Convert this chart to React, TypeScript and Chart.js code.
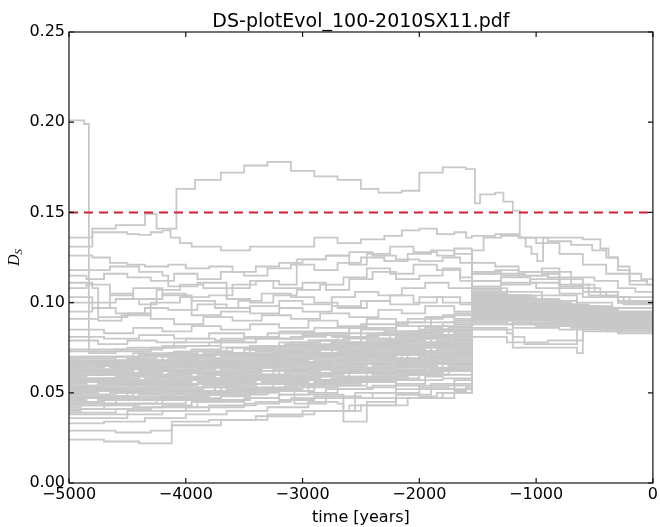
import React, { useEffect, useRef } from 'react';
import { Chart, registerables } from 'chart.js';

Chart.register(...registerables);

const TITLE = 'DS-plotEvol_100-2010SX11.pdf';
const X_LABEL = 'time [years]';
const X_MIN = -5000;
const X_MAX = 0;
const X_STEP = 1000;
const Y_MIN = 0;
const Y_MAX = 0.25;
const Y_STEP = 0.05;
const THRESHOLD = 0.15;

// Shared time grids for the dense band of clones (years)
const GRID_A = [-5000, -4750, -4500, -4250, -4000, -3750, -3500, -3250, -3000, -2750, -2500, -2250, -2000, -1750, -1550, -1300, -1050, -800, -550, -300, 0];
const GRID_B = [-5000, -4850, -4600, -4350, -4100, -3850, -3600, -3350, -3100, -2850, -2600, -2350, -2100, -1850, -1550, -1400, -1150, -900, -650, -400, 0];
const GRID_C = [-5000, -4650, -4400, -4150, -3900, -3650, -3400, -3150, -2900, -2650, -2400, -2150, -1900, -1700, -1550, -1350, -1100, -850, -600, -350, 0];
const GRID_D = [-5000, -4900, -4700, -4450, -4200, -3950, -3700, -3450, -3200, -2950, -2700, -2450, -2200, -1950, -1800, -1550, -1250, -1000, -700, -450, 0];

// Dense band values, in thousandths of D_S
const BAND_A = [
  [45, 46, 46, 47, 49, 49, 51, 52, 54, 55, 57, 58, 60, 62, 90, 90, 88, 88, 86, 85, 85],
  [48, 48, 50, 50, 51, 53, 53, 55, 57, 58, 59, 62, 63, 65, 97, 95, 94, 92, 91, 89, 89],
  [50, 51, 51, 53, 53, 55, 57, 57, 59, 61, 62, 63, 66, 67, 103, 101, 98, 97, 94, 92, 92],
  [52, 52, 54, 55, 55, 57, 58, 60, 60, 62, 64, 66, 67, 70, 94, 93, 93, 91, 90, 88, 88],
  [54, 55, 55, 56, 58, 58, 60, 62, 63, 64, 66, 67, 70, 72, 106, 104, 100, 98, 96, 93, 93],
  [56, 56, 57, 59, 59, 61, 62, 63, 65, 67, 67, 69, 71, 73, 99, 98, 96, 95, 92, 91, 91],
  [58, 58, 60, 60, 62, 62, 64, 66, 66, 68, 70, 71, 73, 76, 101, 100, 97, 96, 94, 92, 92],
  [60, 61, 61, 62, 63, 65, 65, 67, 69, 70, 71, 73, 76, 77, 92, 92, 91, 89, 89, 87, 87],
  [62, 62, 64, 64, 66, 67, 68, 69, 71, 72, 74, 76, 77, 80, 104, 103, 101, 98, 95, 94, 94],
  [64, 65, 65, 67, 67, 69, 70, 72, 72, 74, 76, 77, 80, 82, 96, 95, 94, 93, 91, 90, 90],
  [66, 66, 68, 68, 70, 71, 71, 73, 75, 77, 77, 79, 81, 84, 100, 98, 97, 95, 93, 91, 91],
  [68, 68, 69, 71, 71, 72, 74, 76, 76, 78, 80, 82, 84, 86, 107, 104, 102, 99, 97, 95, 95],
];
const BAND_B = [
  [46, 47, 48, 48, 50, 51, 52, 53, 55, 57, 57, 59, 61, 63, 95, 94, 92, 91, 89, 88, 88],
  [49, 49, 50, 52, 52, 54, 55, 56, 58, 59, 61, 61, 64, 66, 100, 99, 97, 95, 93, 91, 91],
  [51, 52, 52, 54, 55, 55, 57, 59, 59, 61, 63, 64, 65, 68, 91, 91, 90, 89, 88, 86, 86],
  [53, 53, 55, 55, 57, 58, 58, 60, 62, 63, 64, 66, 68, 69, 105, 103, 100, 97, 95, 94, 94],
  [55, 56, 56, 58, 58, 60, 61, 62, 64, 65, 66, 68, 69, 72, 97, 96, 95, 93, 92, 90, 90],
  [57, 57, 59, 59, 61, 61, 63, 65, 65, 67, 69, 69, 72, 74, 102, 101, 99, 97, 94, 93, 93],
  [59, 60, 60, 62, 62, 64, 65, 65, 67, 69, 70, 72, 73, 75, 93, 93, 92, 90, 89, 88, 88],
  [61, 61, 63, 63, 64, 66, 67, 68, 69, 71, 72, 74, 75, 78, 99, 97, 96, 95, 93, 91, 91],
  [63, 63, 64, 66, 66, 67, 69, 70, 72, 72, 74, 76, 78, 79, 104, 102, 99, 98, 96, 94, 94],
  [65, 66, 66, 67, 69, 69, 71, 72, 73, 75, 76, 78, 80, 82, 95, 94, 94, 92, 90, 89, 89],
  [67, 67, 68, 70, 70, 72, 72, 74, 76, 76, 78, 80, 82, 85, 101, 100, 98, 96, 94, 92, 92],
  [69, 69, 70, 71, 73, 73, 75, 76, 78, 79, 81, 83, 84, 87, 98, 96, 95, 94, 92, 90, 90],
];
const BAND_C = [
  [47, 47, 49, 49, 50, 52, 52, 54, 56, 56, 58, 60, 62, 64, 98, 97, 95, 93, 91, 90, 90],
  [49, 50, 51, 51, 53, 54, 55, 57, 57, 59, 60, 62, 64, 66, 92, 91, 91, 90, 88, 87, 87],
  [52, 53, 53, 54, 56, 56, 58, 58, 60, 62, 63, 65, 66, 69, 101, 99, 98, 96, 93, 92, 92],
  [54, 54, 56, 57, 57, 59, 59, 61, 63, 63, 65, 67, 69, 71, 96, 95, 93, 92, 91, 89, 89],
  [56, 57, 57, 58, 60, 60, 62, 63, 64, 66, 68, 68, 70, 73, 103, 102, 99, 97, 95, 92, 92],
  [58, 58, 59, 61, 61, 63, 64, 64, 66, 68, 69, 71, 72, 75, 94, 94, 93, 91, 90, 88, 88],
  [60, 60, 62, 62, 64, 64, 66, 67, 68, 69, 71, 73, 75, 77, 100, 99, 96, 95, 93, 91, 91],
  [62, 63, 63, 65, 65, 66, 68, 69, 71, 71, 73, 75, 76, 79, 97, 96, 95, 93, 92, 90, 90],
  [63, 64, 65, 65, 67, 68, 69, 71, 71, 73, 75, 76, 78, 81, 105, 104, 101, 98, 96, 93, 93],
  [65, 65, 67, 68, 68, 70, 71, 72, 74, 75, 77, 78, 81, 83, 93, 92, 92, 90, 89, 88, 88],
  [67, 68, 68, 69, 71, 71, 73, 74, 75, 77, 78, 80, 82, 85, 99, 98, 97, 95, 93, 91, 91],
  [70, 70, 71, 72, 73, 75, 75, 77, 79, 80, 82, 83, 85, 88, 102, 100, 99, 96, 94, 92, 92],
];
const BAND_D = [
  [40, 41, 41, 42, 43, 45, 46, 47, 49, 50, 52, 53, 55, 57, 58, 89, 88, 87, 86, 85, 85],
  [42, 43, 44, 44, 46, 47, 48, 50, 51, 53, 54, 56, 57, 59, 60, 94, 92, 91, 89, 88, 88],
  [44, 45, 46, 47, 47, 49, 51, 52, 53, 55, 57, 58, 60, 61, 63, 99, 97, 95, 93, 91, 91],
  [47, 47, 48, 50, 51, 51, 53, 55, 56, 57, 59, 61, 62, 64, 66, 104, 101, 99, 96, 94, 94],
  [50, 51, 51, 52, 54, 55, 56, 57, 59, 61, 61, 63, 65, 67, 68, 96, 95, 93, 92, 90, 90],
  [53, 53, 55, 55, 56, 58, 59, 60, 62, 63, 65, 66, 67, 70, 71, 101, 99, 98, 95, 93, 93],
  [57, 57, 58, 60, 60, 61, 63, 64, 66, 67, 68, 70, 72, 73, 75, 93, 92, 91, 90, 88, 88],
  [59, 60, 61, 61, 63, 64, 65, 67, 68, 70, 71, 72, 74, 76, 77, 106, 103, 100, 98, 95, 95],
  [61, 62, 62, 64, 65, 66, 67, 69, 70, 71, 73, 75, 76, 78, 80, 98, 97, 95, 94, 92, 92],
  [64, 64, 65, 67, 67, 69, 70, 71, 73, 74, 76, 77, 79, 81, 82, 102, 100, 98, 96, 94, 94],
  [66, 67, 67, 68, 70, 71, 72, 74, 75, 77, 78, 79, 81, 83, 85, 95, 94, 93, 91, 90, 90],
  [69, 70, 70, 72, 72, 74, 75, 76, 78, 79, 81, 82, 84, 86, 89, 100, 99, 97, 95, 93, 93],
];

// Individual clones outside the dense band: times (years) and D_S values
const TOP_LINE = {
  t: [-5000, -4800, -4600, -4350, -4250, -4080, -3920, -3700, -3500, -3300, -3100, -2900, -2700, -2500, -2350, -2150, -2000, -1800, -1600, -1524, -1480, -1350, -1280, -1200, -1140, -1090, -1040, -990, -940, -600, -450, -380, -300, -200, -50, 0],
  v: [0.136, 0.141, 0.143, 0.149, 0.141, 0.163, 0.168, 0.172, 0.176, 0.178, 0.173, 0.170, 0.168, 0.163, 0.161, 0.162, 0.172, 0.175, 0.174, 0.155, 0.160, 0.161, 0.156, 0.151, 0.136, 0.131, 0.127, 0.123, 0.136, 0.135, 0.130, 0.125, 0.118, 0.112, 0.110, 0.110],
};
const SPIKE_LINE = {
  t: [-5000, -4870, -4830, -4600, -4300, -4000, -3700, -3400, -3100, -2800, -2500, -2200, -1900, -1700, -1550, -1250, -950, -650, -350, 0],
  v: [0.201, 0.199, 0.072, 0.073, 0.075, 0.076, 0.078, 0.080, 0.081, 0.083, 0.085, 0.087, 0.089, 0.091, 0.105, 0.102, 0.099, 0.096, 0.093, 0.093],
};
const UPPER_1 = {
  t: [-5000, -4800, -4500, -4400, -4300, -4200, -4130, -4050, -3950, -3700, -3450, -3100, -2900, -2700, -2500, -2300, -2150, -2000, -1850, -1700, -1600, -1550, -1350, -1150, -900, -700, -520, -400, -300, -200, -100, 0],
  v: [0.131, 0.139, 0.138, 0.1375, 0.139, 0.140, 0.136, 0.133, 0.131, 0.129, 0.131, 0.131, 0.136, 0.133, 0.135, 0.137, 0.140, 0.141, 0.138, 0.139, 0.136, 0.137, 0.138, 0.136, 0.134, 0.132, 0.129, 0.125, 0.120, 0.116, 0.113, 0.112],
};
const UPPER_2 = {
  t: [-5000, -4800, -4650, -4500, -4350, -4150, -4000, -3800, -3600, -3400, -3200, -3000, -2800, -2600, -2400, -2200, -2000, -1800, -1650, -1550, -1300, -1100, -900, -700, -500, -300, 0],
  v: [0.126, 0.125, 0.122, 0.121, 0.120, 0.121, 0.119, 0.120, 0.117, 0.120, 0.122, 0.124, 0.126, 0.128, 0.126, 0.124, 0.123, 0.125, 0.122, 0.116, 0.115, 0.117, 0.114, 0.110, 0.106, 0.101, 0.101],
};
const UPPER_3 = {
  t: [-5000, -4850, -4700, -4500, -4300, -4100, -3900, -3700, -3500, -3300, -3100, -2900, -2700, -2500, -2300, -2100, -1900, -1700, -1550, -1300, -1100, -900, -700, -500, -300, -150, 0],
  v: [0.115, 0.113, 0.116, 0.114, 0.112, 0.116, 0.113, 0.117, 0.115, 0.119, 0.121, 0.118, 0.122, 0.125, 0.123, 0.127, 0.129, 0.127, 0.117, 0.116, 0.115, 0.117, 0.114, 0.112, 0.108, 0.106, 0.106],
};
const UPPER_4 = {
  t: [-5000, -4800, -4750, -4500, -4300, -4050, -3800, -3600, -3400, -3250, -3000, -2800, -2600, -2400, -2200, -2000, -1800, -1650, -1550, -1300, -1000, -800, -600, -300, 0],
  v: [0.111, 0.108, 0.092, 0.094, 0.100, 0.103, 0.104, 0.110, 0.112, 0.108, 0.111, 0.107, 0.113, 0.117, 0.113, 0.115, 0.119, 0.112, 0.109, 0.111, 0.108, 0.105, 0.103, 0.100, 0.100],
};
const UPPER_5 = {
  t: [-5000, -4850, -4650, -4450, -4200, -4000, -3950, -3700, -3450, -3200, -3000, -2750, -2550, -2350, -2150, -1950, -1750, -1550, -1250, -950, -650, -350, 0],
  v: [0.108, 0.110, 0.105, 0.102, 0.105, 0.103, 0.093, 0.095, 0.098, 0.101, 0.099, 0.103, 0.106, 0.104, 0.108, 0.111, 0.108, 0.104, 0.106, 0.104, 0.100, 0.097, 0.097],
};
const UPPER_6 = {
  t: [-5000, -4800, -4600, -4400, -4250, -4050, -3850, -3650, -3450, -3250, -3050, -2850, -2650, -2450, -2250, -2050, -1850, -1650, -1550, -1300, -1050, -800, -550, -300, 0],
  v: [0.103, 0.100, 0.102, 0.099, 0.107, 0.110, 0.108, 0.102, 0.100, 0.104, 0.107, 0.110, 0.114, 0.119, 0.116, 0.121, 0.118, 0.114, 0.112, 0.114, 0.111, 0.110, 0.106, 0.103, 0.103],
};
const UPPER_7 = {
  t: [-5000, -4800, -4600, -4350, -4150, -3900, -3650, -3450, -3200, -3000, -2750, -2500, -2250, -2000, -1800, -1550, -1250, -950, -650, -350, 0],
  v: [0.095, 0.097, 0.094, 0.097, 0.096, 0.099, 0.097, 0.094, 0.097, 0.095, 0.098, 0.101, 0.099, 0.103, 0.100, 0.101, 0.099, 0.098, 0.096, 0.094, 0.094],
};
const UPPER_8 = {
  t: [-5000, -4750, -4550, -4300, -4100, -3850, -3600, -3350, -3100, -2850, -2600, -2350, -2150, -1950, -1700, -1550, -1250, -950, -650, -350, 0],
  v: [0.091, 0.090, 0.093, 0.091, 0.088, 0.092, 0.090, 0.093, 0.091, 0.094, 0.092, 0.096, 0.094, 0.098, 0.095, 0.108, 0.104, 0.101, 0.098, 0.095, 0.095],
};
const UPPER_9 = {
  t: [-5000, -4700, -4450, -4200, -3950, -3700, -3450, -3200, -2950, -2700, -2450, -2200, -1950, -1700, -1550, -1200, -900, -600, -300, 0],
  v: [0.085, 0.083, 0.086, 0.084, 0.087, 0.085, 0.088, 0.086, 0.090, 0.087, 0.091, 0.089, 0.092, 0.090, 0.098, 0.096, 0.094, 0.092, 0.090, 0.090],
};
const UPPER_10 = {
  t: [-5000, -4700, -4400, -4100, -3800, -3500, -3200, -2900, -2600, -2300, -2000, -1750, -1550, -1250, -950, -650, -300, 0],
  v: [0.081, 0.080, 0.082, 0.080, 0.083, 0.081, 0.084, 0.082, 0.086, 0.084, 0.087, 0.085, 0.096, 0.094, 0.092, 0.091, 0.089, 0.089],
};
const UPPER_11 = {
  t: [-5000, -4750, -4500, -4250, -4000, -3750, -3500, -3250, -3000, -2750, -2500, -2250, -2000, -1750, -1550, -1250, -950, -650, -350, 0],
  v: [0.079, 0.077, 0.079, 0.078, 0.080, 0.079, 0.081, 0.080, 0.082, 0.081, 0.083, 0.082, 0.085, 0.084, 0.102, 0.100, 0.097, 0.095, 0.093, 0.093],
};
const UPPER_12 = {
  t: [-5000, -4650, -4400, -4200, -4150, -3900, -3650, -3450, -3200, -3050, -2800, -2600, -2450, -2250, -2050, -1850, -1700, -1550, -1350, -1150, -950, -800, -600, -400, -200, 0],
  v: [0.118, 0.120, 0.117, 0.115, 0.109, 0.111, 0.108, 0.112, 0.110, 0.124, 0.126, 0.121, 0.127, 0.131, 0.128, 0.126, 0.130, 0.122, 0.120, 0.117, 0.119, 0.109, 0.106, 0.103, 0.100, 0.100],
};
const UPPER_13 = {
  t: [-5000, -4800, -4650, -4450, -4200, -3950, -3750, -3550, -3350, -3100, -2900, -2700, -2450, -2250, -2050, -1850, -1650, -1550, -1450, -1300, -1150, -1000, -800, -600, -400, -200, 0],
  v: [0.100, 0.097, 0.104, 0.108, 0.104, 0.101, 0.097, 0.101, 0.105, 0.103, 0.100, 0.097, 0.101, 0.104, 0.100, 0.103, 0.099, 0.129, 0.136, 0.137, 0.136, 0.133, 0.127, 0.121, 0.116, 0.110, 0.110],
};
const UPPER_14 = {
  t: [-5000, -4600, -4200, -3800, -3400, -3000, -2600, -2200, -1900, -1700, -1550, -1350, -1150, -950, -800, -600, -450, -250, 0],
  v: [0.073, 0.074, 0.076, 0.078, 0.080, 0.083, 0.086, 0.089, 0.092, 0.094, 0.116, 0.118, 0.115, 0.116, 0.113, 0.108, 0.103, 0.099, 0.099],
};
const UPPER_15 = {
  t: [-5000, -4500, -4100, -3700, -3300, -2900, -2500, -2100, -1800, -1550, -1300, -1050, -800, -550, -300, 0],
  v: [0.074, 0.075, 0.078, 0.080, 0.083, 0.086, 0.088, 0.091, 0.093, 0.112, 0.110, 0.113, 0.108, 0.104, 0.100, 0.100],
};
const LOWER_1 = {
  t: [-5000, -4700, -4400, -4120, -3800, -3400, -3000, -2600, -2200, -1800, -1550, -1250, -1200, -650, -600, -300, 0],
  v: [0.024, 0.023, 0.022, 0.034, 0.035, 0.037, 0.040, 0.043, 0.047, 0.050, 0.086, 0.083, 0.075, 0.072, 0.084, 0.083, 0.083],
};
const LOWER_2 = {
  t: [-5000, -4600, -4300, -4120, -3700, -3300, -2900, -2500, -2100, -1700, -1550, -1200, -700, -350, 0],
  v: [0.029, 0.028, 0.029, 0.032, 0.035, 0.038, 0.040, 0.043, 0.047, 0.050, 0.091, 0.089, 0.087, 0.085, 0.085],
};
const LOWER_3 = {
  t: [-5000, -4700, -4350, -4000, -3650, -3300, -2950, -2700, -2650, -2450, -2200, -1900, -1700, -1550, -1250, -900, -500, 0],
  v: [0.033, 0.034, 0.036, 0.038, 0.040, 0.042, 0.045, 0.044, 0.034, 0.045, 0.049, 0.052, 0.054, 0.099, 0.096, 0.093, 0.090, 0.090],
};
const LOWER_4 = {
  t: [-5000, -4500, -4200, -3800, -3400, -3100, -2800, -2650, -2550, -2200, -1900, -1550, -1250, -900, -650, -300, 0],
  v: [0.036, 0.038, 0.040, 0.043, 0.045, 0.047, 0.049, 0.040, 0.050, 0.052, 0.055, 0.081, 0.078, 0.079, 0.088, 0.087, 0.087],
};
const LOWER_5 = {
  t: [-5000, -4600, -4300, -3900, -3500, -3200, -2800, -2400, -2000, -1750, -1550, -1200, -1100, -650, -600, 0],
  v: [0.039, 0.041, 0.042, 0.045, 0.047, 0.049, 0.052, 0.054, 0.053, 0.052, 0.085, 0.081, 0.077, 0.079, 0.089, 0.089],
};
const LOWER_6 = {
  t: [-5000, -4700, -4400, -4000, -3700, -3300, -2900, -2500, -2100, -1800, -1550, -1100, -700, -300, 0],
  v: [0.041, 0.043, 0.044, 0.046, 0.049, 0.051, 0.054, 0.057, 0.060, 0.062, 0.093, 0.091, 0.089, 0.088, 0.088],
};
const LOWER_7 = {
  t: [-5000, -4650, -4250, -3850, -3450, -3050, -2650, -2250, -1850, -1550, -1200, -800, -400, 0],
  v: [0.043, 0.044, 0.047, 0.049, 0.052, 0.055, 0.058, 0.061, 0.063, 0.088, 0.086, 0.085, 0.084, 0.084],
};
const LOWER_8 = {
  t: [-5000, -4500, -4000, -3500, -3200, -2900, -2500, -2200, -2000, -1850, -1700, -1600, -1550, -1200, -800, -400, 0],
  v: [0.038, 0.040, 0.042, 0.044, 0.046, 0.048, 0.047, 0.049, 0.048, 0.050, 0.051, 0.053, 0.095, 0.093, 0.091, 0.089, 0.089],
};
const LOWER_9 = {
  t: [-5000, -4600, -4200, -3800, -3400, -3070, -2800, -2400, -2000, -1700, -1550, -1200, -800, -400, 0],
  v: [0.044, 0.046, 0.048, 0.050, 0.055, 0.044, 0.047, 0.050, 0.054, 0.057, 0.090, 0.088, 0.087, 0.086, 0.086],
};

const SINGLE_LINES = [
  TOP_LINE, SPIKE_LINE, UPPER_1, UPPER_2, UPPER_3, UPPER_4, UPPER_5, UPPER_6, UPPER_7, UPPER_8,
  UPPER_9, UPPER_10, UPPER_11, UPPER_12, UPPER_13, UPPER_14, UPPER_15,
  LOWER_1, LOWER_2, LOWER_3, LOWER_4, LOWER_5, LOWER_6, LOWER_7, LOWER_8, LOWER_9,
];

const GREY = '#c8c8c8';
const RED = '#d42030';
const FONT = '"DejaVu Sans", Verdana, sans-serif';
const TICK_LEN = 5;

const decorPlugin = {
  id: 'decor',
  afterDraw(chart: any) {
    const { ctx, chartArea: a, scales } = chart;
    ctx.save();
    ctx.strokeStyle = '#111';
    ctx.lineWidth = 1.2;
    ctx.strokeRect(a.left, a.top, a.right - a.left, a.bottom - a.top);
    ctx.beginPath();
    for (const t of scales.x.ticks) {
      const p = scales.x.getPixelForValue(t.value);
      ctx.moveTo(p, a.bottom);
      ctx.lineTo(p, a.bottom - TICK_LEN);
      ctx.moveTo(p, a.top);
      ctx.lineTo(p, a.top + TICK_LEN);
    }
    for (const t of scales.y.ticks) {
      const p = scales.y.getPixelForValue(t.value);
      ctx.moveTo(a.left, p);
      ctx.lineTo(a.left + TICK_LEN, p);
      ctx.moveTo(a.right, p);
      ctx.lineTo(a.right - TICK_LEN, p);
    }
    ctx.stroke();

    ctx.fillStyle = '#000';
    ctx.font = '19px ' + FONT;
    ctx.textAlign = 'center';
    ctx.textBaseline = 'alphabetic';
    ctx.fillText(TITLE, (a.left + a.right) / 2, 27);

    ctx.translate(19, (a.top + a.bottom) / 2);
    ctx.rotate(-Math.PI / 2);
    ctx.textAlign = 'left';
    ctx.font = 'italic 16px "Liberation Serif", serif';
    const wD = ctx.measureText('D').width;
    ctx.font = 'italic 11px "Liberation Serif", serif';
    const wS = ctx.measureText('S').width;
    const x0 = -(wD + wS) / 2;
    ctx.font = 'italic 16px "Liberation Serif", serif';
    ctx.fillText('D', x0, 0);
    ctx.font = 'italic 11px "Liberation Serif", serif';
    ctx.fillText('S', x0 + wD, 3);
    ctx.restore();
  },
};

function greyLine(points: { x: number; y: number }[]) {
  return {
    data: points,
    borderColor: GREY,
    borderWidth: 1.8,
    pointRadius: 0,
    stepped: 'before' as const,
    fill: false,
  };
}

export default function App() {
  const ref = useRef<HTMLCanvasElement | null>(null);

  useEffect(() => {
    if (!ref.current) return;
    const datasets: any[] = [];
    datasets.push({
      data: [
        { x: X_MIN, y: THRESHOLD },
        { x: X_MAX, y: THRESHOLD },
      ],
      borderColor: RED,
      borderWidth: 2,
      borderDash: [9, 6],
      pointRadius: 0,
      fill: false,
    });
    SINGLE_LINES.forEach((s) => {
      datasets.push(greyLine(s.t.map((x, i) => ({ x, y: s.v[i] }))));
    });
    const addBand = (grid: number[], rows: number[][]) => {
      rows.forEach((row) => {
        datasets.push(greyLine(grid.map((x, i) => ({ x, y: row[i] / 1000 }))));
      });
    };
    addBand(GRID_A, BAND_A);
    addBand(GRID_B, BAND_B);
    addBand(GRID_C, BAND_C);
    addBand(GRID_D, BAND_D);

    const chart = new Chart(ref.current, {
      type: 'line',
      data: { datasets },
      plugins: [decorPlugin],
      options: {
        animation: false,
        responsive: true,
        maintainAspectRatio: false,
        layout: { padding: { top: 32, right: 7, left: 0, bottom: 0 } },
        plugins: {
          legend: { display: false },
          tooltip: { enabled: false },
          title: { display: false },
        },
        scales: {
          x: {
            type: 'linear',
            min: X_MIN,
            max: X_MAX,
            grid: { display: false, drawTicks: false },
            border: { display: false },
            ticks: {
              stepSize: X_STEP,
              autoSkip: false,
              maxRotation: 0,
              padding: 2,
              color: '#000',
              font: { family: FONT, size: 16 },
              callback: (v: any) => (Number(v) < 0 ? '\u2212' + Math.abs(Number(v)) : String(v)),
            },
            title: {
              display: true,
              text: X_LABEL,
              color: '#000',
              font: { family: FONT, size: 16 },
              padding: { top: 0, bottom: 0 },
            },
            afterFit: (s: any) => {
              s.height = 44;
            },
          },
          y: {
            type: 'linear',
            min: Y_MIN,
            max: Y_MAX,
            grid: { display: false, drawTicks: false },
            border: { display: false },
            ticks: {
              stepSize: Y_STEP,
              padding: 4,
              color: '#000',
              font: { family: FONT, size: 16 },
              callback: (v: any) => Number(v).toFixed(2),
            },
            afterFit: (s: any) => {
              s.width = 69;
            },
          },
        },
      },
    });
    return () => chart.destroy();
  }, []);

  return (
    <div style={{ position: 'absolute', left: 0, top: 0, width: 660, height: 527, background: '#fff' }}>
      <canvas ref={ref} />
    </div>
  );
}
